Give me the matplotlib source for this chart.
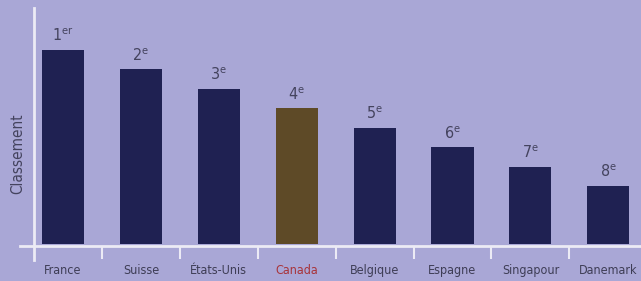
import matplotlib.pyplot as plt
from matplotlib.lines import Line2D

pays = ["France", "Suisse", "États-Unis", "Canada", "Belgique", "Espagne", "Singapour", "Danemark"]
score = [10, 9, 8, 7, 6, 5, 4, 3]
rang = ["1", "2", "3", "4", "5", "6", "7", "8"]
suffixe = ["er", "e", "e", "e", "e", "e", "e", "e"]

fond = "#a9a7d6"
marine = "#1f2152"
olive = "#5e4a27"
blanc = "#ecebf5"
gris = "#44435e"

plt.rcParams['font.family'] = ['DejaVu Sans']
plt.rcParams['font.stretch'] = 'condensed'

W, H = 641, 281
fig = plt.figure(figsize=(W / 100, H / 100), dpi=100, facecolor=fond)
base = 246
ax = fig.add_axes([34 / W, (H - base) / H, (W - 34) / W, base / H])
ax.set_facecolor(fond)

x = list(range(len(pays)))
couleurs = [olive if p == "Canada" else marine for p in pays]
ax.bar(x, score, width=0.54, color=couleurs)

ax.set_xlim(-0.372, 7.42)
ax.set_ylim(-0.09, -0.09 + base / 19.43)

for xi, v, r, s in zip(x, score, rang, suffixe):
    ax.annotate(r + r"$^{\mathregular{" + s + "}}$", (xi, v), xytext=(0, 4),
                textcoords="offset points", ha="center", va="bottom",
                fontsize=11.5, color=gris)

for s in ax.spines.values():
    s.set_visible(False)

ax.set_yticks([])
ax.set_xticks(x)
ax.set_xticklabels(pays, fontsize=9, color="#3e3d55")
ax.get_xticklabels()[pays.index("Canada")].set_color("#a8343a")
ax.tick_params(axis="x", which="major", length=0, pad=13)
ax.set_xticks([i + 0.5 for i in x[:-1]], minor=True)
ax.tick_params(axis="x", which="minor", length=9, width=1.5, color=blanc, direction="out")

ax.set_ylabel("Classement", fontsize=11, color=gris)
ax.yaxis.set_label_coords(-0.015, 0.374)

# axes lines extending past the corner
fig.add_artist(Line2D([20 / W, 1], [(H - base) / H] * 2, color=blanc, lw=2))
fig.add_artist(Line2D([34 / W] * 2, [(H - 260) / H, (H - 8) / H], color=blanc, lw=2))

fig.savefig("out.png", dpi=100, facecolor=fond)
